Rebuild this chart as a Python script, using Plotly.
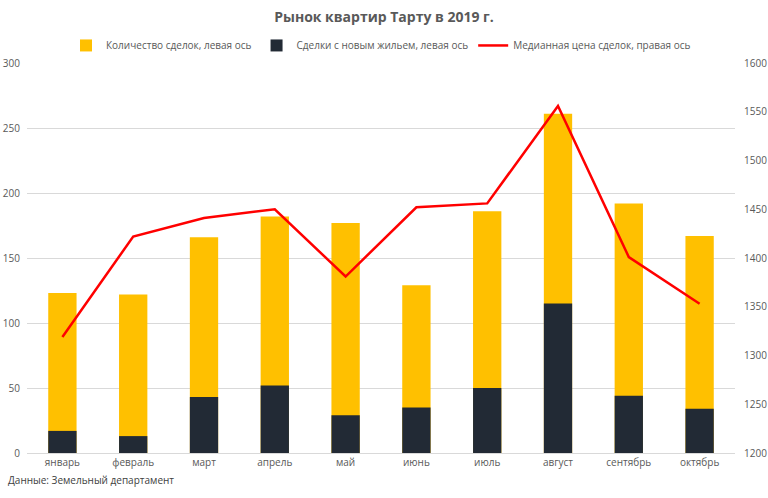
import plotly.graph_objects as go

months = ["январь", "февраль", "март", "апрель", "май", "июнь", "июль", "август", "сентябрь", "октябрь"]
total_deals = [123, 122, 166, 182, 177, 129, 186, 261, 192, 167]
new_deals = [17, 13, 43, 52, 29, 35, 50, 115, 44, 34]
median_price = [1319, 1422, 1441, 1450, 1381, 1452, 1456, 1556, 1401, 1353]

FONT = "Open Sans, Liberation Sans, sans-serif"
GRAY = "#595959"

fig = go.Figure()
fig.add_trace(go.Bar(x=months, y=total_deals, name="Количество сделок, левая ось",
                     marker=dict(color="#FFC000", line=dict(width=0)), width=0.4))
fig.add_trace(go.Bar(x=months, y=new_deals, name="Сделки с новым жильем, левая ось",
                     marker=dict(color="#222A35", line=dict(width=0)), width=0.4))
fig.add_trace(go.Scatter(x=months, y=median_price, name="Медианная цена сделок, правая ось",
                         mode="lines", line=dict(color="#FF0000", width=2.5), yaxis="y2"))

fig.update_layout(
    width=768, height=498,
    margin=dict(l=27, r=33, t=63, b=45),
    paper_bgcolor="white", plot_bgcolor="white",
    barmode="overlay",
    font=dict(family=FONT, size=10, color=GRAY),
    title=dict(text="<b>Рынок квартир Тарту в 2019 г.</b>", x=0.5, xanchor="center",
               y=0.966, yanchor="middle", font=dict(size=14, color=GRAY, family=FONT)),
    legend=dict(orientation="h", x=0.5, xanchor="center", y=1.045, yanchor="middle",
                font=dict(size=10, color=GRAY), itemwidth=30, traceorder="normal"),
    xaxis=dict(showgrid=False, showline=True, linecolor="#D9D9D9", linewidth=1, ticks="",
               tickfont=dict(size=10, color=GRAY), automargin=False),
    yaxis=dict(range=[0, 300], dtick=50, showgrid=True, gridcolor="#D9D9D9", gridwidth=1,
               zeroline=False, showline=False, ticks="", tickfont=dict(size=10, color=GRAY),
               automargin=False, ticklabelstandoff=6),
    yaxis2=dict(range=[1200, 1600], dtick=50, overlaying="y", side="right", showgrid=False,
                zeroline=False, showline=False, ticks="", tickfont=dict(size=10, color=GRAY),
                automargin=False, ticklabelstandoff=8),
    annotations=[dict(text="Данные: Земельный департамент", xref="paper", yref="paper",
                      x=-0.029, y=-0.07, xanchor="left", yanchor="middle", showarrow=False,
                      font=dict(size=10, color="#404040"))],
)

fig.write_html("out.html")
